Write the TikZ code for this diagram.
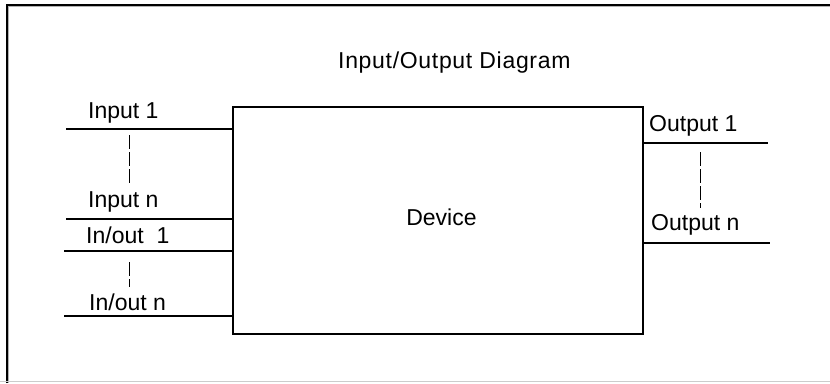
\documentclass[tikz,border=0pt]{standalone}
\usepackage{fontspec}
\setmainfont{Liberation Sans}
\begin{document}
\begin{tikzpicture}[x=1pt,y=-1pt,
  lbl/.style={inner sep=0pt,anchor=west,font=\fontsize{23}{27}\selectfont},
  wire/.style={line width=2pt},
  gap/.style={line width=1pt,dash pattern=on 14pt off 3pt},
  dev/.style={draw,line width=2pt,minimum width=410pt,minimum height=227pt,inner sep=0pt}]
\useasboundingbox (0,0) rectangle (830,383);
% outer frame
\draw[line width=1.2pt,gray!60] (8.5,383) -- (8.5,6.5) -- (830,6.5);
\draw[line width=2pt] (6.5,383) -- (6.5,4.5) -- (830,4.5);
\draw[line width=1.5pt,gray!40] (0,381.5) -- (830,381.5);
% title
\node[lbl] (title) at (338,63) {\addfontfeature{LetterSpace=3}Input/Output Diagram};
% device box
\node[dev] (dev) at (438,220.5) {};
\node[lbl,anchor=center] (devlbl) at (441.5,217) {Device};
% left side coordinates
\coordinate (i1) at (66,129);
\coordinate (in) at (66,219);
\coordinate (io1) at (64,251);
\coordinate (ion) at (64,316);
\coordinate (i1e) at (dev.west |- i1);
\coordinate (ine) at (dev.west |- in);
\coordinate (io1e) at (dev.west |- io1);
\coordinate (ione) at (dev.west |- ion);
\draw[wire] (i1) -- (i1e);
\draw[wire] (in) -- (ine);
\draw[wire] (io1) -- (io1e);
\draw[wire] (ion) -- (ione);
\node[lbl] (li1) at (88,113) {Input 1};
\node[lbl] (lin) at (88,202) {Input n};
\node[lbl] (lio1) at (86,235) {In/out\ \ 1};
\node[lbl] (lion) at (89,302) {In/out n};
\coordinate (d1a) at (129,135);
\coordinate (d1b) at (129,184);
\coordinate (d2a) at (129,262);
\coordinate (d2b) at (129,287);
\draw[gap] (d1a) -- (d1b);
\draw[gap] (d2a) -- (d2b);
% right side
\coordinate (o1) at (768,143);
\coordinate (on) at (770,243);
\coordinate (o1e) at (dev.east |- o1);
\coordinate (one) at (dev.east |- on);
\draw[wire] (o1e) -- (o1);
\draw[wire] (one) -- (on);
\node[lbl] (lo1) at (649,126) {Output 1};
\node[lbl] (lon) at (651,225) {Output n};
\coordinate (d3a) at (700,152);
\coordinate (d3b) at (700,208);
\draw[gap] (d3a) -- (d3b);
\end{tikzpicture}
\end{document}
